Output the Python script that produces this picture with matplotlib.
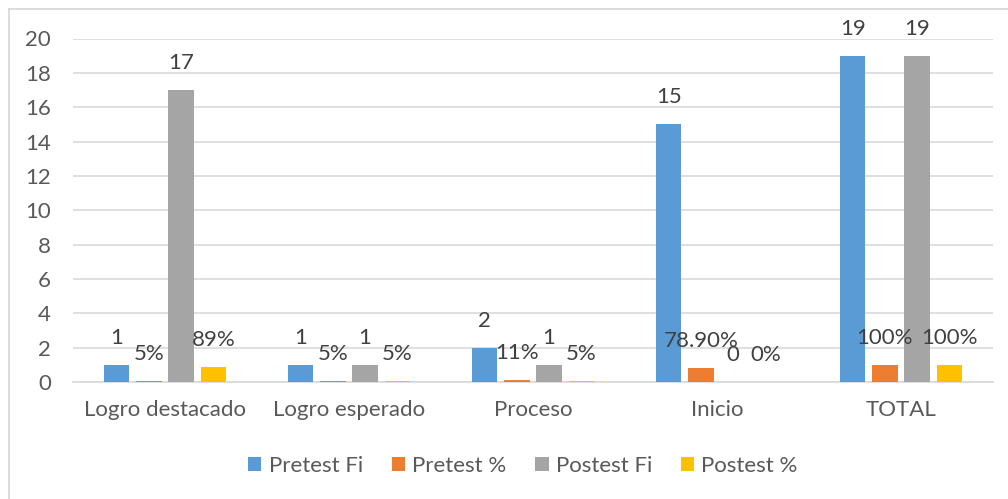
import matplotlib
matplotlib.use("Agg")
import matplotlib.pyplot as plt
import numpy as np
from matplotlib.lines import Line2D

plt.rcParams['font.family'] = ['Lato', 'DejaVu Sans']

categories = ["Logro destacado", "Logro esperado", "Proceso", "Inicio", "TOTAL"]
series_names = ["Pretest Fi", "Pretest %", "Postest Fi", "Postest %"]
pretest_fi = [1, 1, 2, 15, 19]
pretest_pct = [0.05, 0.05, 0.11, 0.789, 1.0]
postest_fi = [17, 1, 1, 0, 19]
postest_pct = [0.89, 0.05, 0.05, 0.0, 1.0]
pretest_fi_labels = ["1", "1", "2", "15", "19"]
pretest_pct_labels = ["5%", "5%", "11%", "78.90%", "100%"]
postest_fi_labels = ["17", "1", "1", "0", "19"]
postest_pct_labels = ["89%", "5%", "5%", "0%", "100%"]
yticks = [0, 2, 4, 6, 8, 10, 12, 14, 16, 18, 20]
colors = ["#5B9BD5", "#ED7D31", "#A5A5A5", "#FFC000"]

series = [pretest_fi, pretest_pct, postest_fi, postest_pct]
labels = [pretest_fi_labels, pretest_pct_labels, postest_fi_labels, postest_pct_labels]

W, H = 1008, 499
fig = plt.figure(figsize=(W / 100, H / 100), dpi=100)
ax = fig.add_axes([73 / W, (H - 382) / H, (993 - 73) / W, (382 - 38.5) / H])

x = np.arange(len(categories))
step = 0.175
width = 0.137
for i, (vals, labs, c, name) in enumerate(zip(series, labels, colors, series_names)):
    pos = x + (i - 1.5) * step
    ax.bar(pos, vals, width=width, color=c, label=name, zorder=3)
    for px, v, t in zip(pos, vals, labs):
        ax.annotate(t, (px, v), xytext=(0, 27), textcoords='offset pixels',
                    ha='center', va='center', fontsize=16, color='#404040', zorder=4)

ax.set_xlim(-0.5, len(categories) - 0.5)
ax.set_ylim(0, 20)
ax.set_yticks(yticks)
ax.set_xticks(x)
ax.set_xticklabels(categories)
ax.yaxis.grid(True, color='#D9D9D9', linewidth=1.2, zorder=0)
ax.set_axisbelow(True)
for s in ['top', 'right', 'left']:
    ax.spines[s].set_visible(False)
ax.spines['bottom'].set_color('#D9D9D9')
ax.spines['bottom'].set_linewidth(1.2)
ax.tick_params(axis='both', length=0, labelsize=16, colors='#595959')
ax.tick_params(axis='x', pad=13)
ax.tick_params(axis='y', pad=16)

fig.legend(loc='center', bbox_to_anchor=(523 / W, 1 - 466 / H), ncol=4, frameon=False,
           fontsize=16, labelcolor='#595959', handlelength=0.6, handleheight=0.6,
           handletextpad=0.32, columnspacing=1.3)

# chart border (top and left visible)
fig.add_artist(Line2D([8.5 / W, 1.0], [1 - 9 / H, 1 - 9 / H], color='#D9D9D9', linewidth=1.3, transform=fig.transFigure))
fig.add_artist(Line2D([8.5 / W, 8.5 / W], [0, 1 - 9 / H], color='#D9D9D9', linewidth=1.3, transform=fig.transFigure))

fig.savefig("out.png", dpi=100)
